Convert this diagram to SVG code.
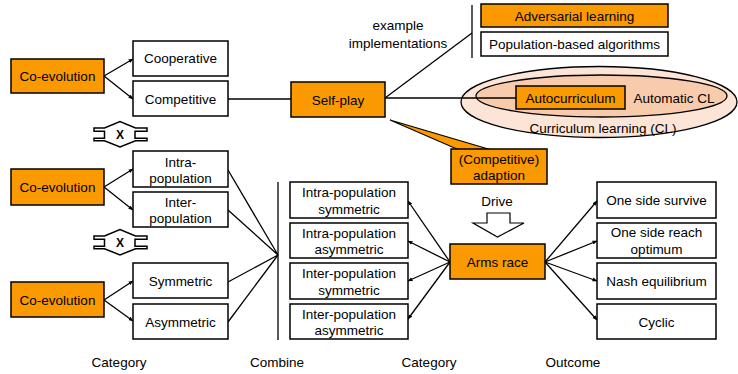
<svg xmlns="http://www.w3.org/2000/svg" width="738" height="374" viewBox="0 0 738 374">
<style>
text{font-family:"Liberation Sans",Arial,sans-serif;font-size:13.5px;fill:#000;text-anchor:middle}
.o{fill:#FA9A00;stroke:#000;stroke-width:1.5}
.w{fill:#fff;stroke:#000;stroke-width:1.5}
.l{stroke:#000;stroke-width:1.3;fill:none}
.a{stroke:#000;stroke-width:1.3;fill:none;marker-end:url(#ah)}
</style>
<defs>
<marker id="ah" viewBox="0 0 10 10" refX="9" refY="5" markerWidth="5" markerHeight="5" orient="auto" markerUnits="userSpaceOnUse"><path d="M0,1 L10,5 L0,9 Z" fill="#000"/></marker>
</defs>
<rect width="738" height="374" fill="#fff"/>

<g id="cl-ellipses">
<ellipse cx="599" cy="102" rx="138" ry="35.5" fill="#FCE4D6" stroke="#000" stroke-width="1.3"/>
<ellipse cx="601.5" cy="96" rx="125.5" ry="21" fill="#F8CBAD" stroke="#000" stroke-width="1.3"/>
<text x="603" y="133">Curriculum learning (CL)</text>
<text x="674" y="103">Automatic CL</text>
</g>

<g id="connectors">
<path class="a" d="M104,76 L133,59"/>
<path class="a" d="M104,76 L133,99"/>
<path class="a" d="M104,187 L133,169"/>
<path class="a" d="M104,187 L133,210"/>
<path class="a" d="M104,300 L133,281"/>
<path class="a" d="M104,300 L133,321"/>
<path class="l" d="M228,170 L278,255 M228,210 L278,255 M228,282 L278,255 M228,322 L278,255"/>
<path class="l" d="M278,182 V340" stroke-width="1.5"/>
<path class="l" d="M228,99 H291"/>
<path class="l" d="M385,98 H516"/>
<path class="l" d="M385,98 L472,33"/>
<path class="l" d="M472,5 V58" stroke-width="1.5"/>
<path class="a" d="M450,262 L408,201"/>
<path class="a" d="M450,262 L408,241"/>
<path class="a" d="M450,262 L408,281"/>
<path class="a" d="M450,262 L408,319"/>
<path class="a" d="M545,262 L597,201"/>
<path class="a" d="M545,262 L597,241"/>
<path class="a" d="M545,262 L597,281"/>
<path class="a" d="M545,262 L597,320"/>
</g>

<g id="x1">
<path class="w" stroke-width="1.2" d="M94,128 H104.5 L120,121.5 L135.5,128 H147 V131.3 H135 V138.3 H147 V140.7 H135.5 L120,147 L104.5,140.7 H94 V138.3 H104.5 V131.3 H94 Z"/>
<text x="120" y="139" style="font-weight:bold;font-size:12px">X</text>
</g>
<g id="x2">
<path class="w" stroke-width="1.2" d="M94,236 H104.5 L120,229.5 L135.5,236 H147 V239.3 H135 V246.3 H147 V248.7 H135.5 L120,255 L104.5,248.7 H94 V246.3 H104.5 V239.3 H94 Z"/>
<text x="120" y="247" style="font-weight:bold;font-size:12px">X</text>
</g>

<g id="coevo1"><rect class="o" x="11" y="59" width="93" height="34"/><text x="57.5" y="81">Co-evolution</text></g>
<g id="cooperative"><rect class="w" x="133" y="41" width="95" height="35"/><text x="180.5" y="63">Cooperative</text></g>
<g id="competitive"><rect class="w" x="133" y="81" width="95" height="35"/><text x="180.5" y="103.5">Competitive</text></g>

<g id="coevo2"><rect class="o" x="11" y="169" width="93" height="36"/><text x="57.5" y="192">Co-evolution</text></g>
<g id="intra"><rect class="w" x="133" y="151" width="95" height="36"/><text x="180.5" y="166.5">Intra-</text><text x="180.5" y="182.5">population</text></g>
<g id="inter"><rect class="w" x="133" y="192" width="95" height="35"/><text x="180.5" y="207">Inter-</text><text x="180.5" y="223">population</text></g>

<g id="coevo3"><rect class="o" x="11" y="282" width="93" height="35"/><text x="57.5" y="304.5">Co-evolution</text></g>
<g id="symmetric"><rect class="w" x="133" y="263" width="95" height="35"/><text x="180.5" y="285.5">Symmetric</text></g>
<g id="asymmetric"><rect class="w" x="133" y="304" width="95" height="35"/><text x="180.5" y="326.5">Asymmetric</text></g>

<g id="selfplay"><rect class="o" x="291" y="82" width="94" height="35"/><text x="338" y="104.5">Self-play</text></g>
<g id="impl-label"><text x="398" y="30">example</text><text x="398" y="47.5">implementations</text></g>
<g id="adversarial"><rect class="o" x="481" y="4" width="187" height="23"/><text x="574.5" y="20.5">Adversarial learning</text></g>
<g id="population"><rect class="w" x="481" y="32" width="187" height="24"/><text x="574.5" y="49">Population-based algorithms</text></g>
<g id="autocurriculum"><rect class="o" x="516" y="86" width="109" height="23"/><text x="570.5" y="102.5">Autocurriculum</text></g>

<g id="adaption">
<path d="M390,120 L458,149.5 L490,149.5 Z" fill="#FA9A00" stroke="#000" stroke-width="1.2" stroke-linejoin="miter"/>
<rect class="o" x="451" y="149" width="96" height="35"/>
<text x="499" y="163.5">(Competitive)</text><text x="499" y="180">adaption</text>
</g>

<g id="drive">
<text x="497" y="206">Drive</text>
<path d="M487,213 H510 V223 H524 L497.5,237 L473,223 H487 Z" fill="#fff" stroke="#000" stroke-width="1.2"/>
</g>

<g id="m1"><rect class="w" x="290" y="182" width="118" height="36"/><text x="349" y="197">Intra-population</text><text x="349" y="214">symmetric</text></g>
<g id="m2"><rect class="w" x="290" y="223" width="118" height="35"/><text x="349" y="237.5">Intra-population</text><text x="349" y="254">asymmetric</text></g>
<g id="m3"><rect class="w" x="290" y="263" width="118" height="36"/><text x="349" y="278">Inter-population</text><text x="349" y="295">symmetric</text></g>
<g id="m4"><rect class="w" x="290" y="304" width="118" height="35"/><text x="349" y="318.5">Inter-population</text><text x="349" y="335">asymmetric</text></g>

<g id="armsrace"><rect class="o" x="450" y="244" width="95" height="35"/><text x="497.5" y="266.5">Arms race</text></g>

<g id="r1"><rect class="w" x="597" y="182" width="119" height="36"/><text x="656.5" y="205">One side survive</text></g>
<g id="r2"><rect class="w" x="597" y="223" width="119" height="35"/><text x="656.5" y="237">One side reach</text><text x="656.5" y="254">optimum</text></g>
<g id="r3"><rect class="w" x="597" y="263" width="119" height="36"/><text x="656.5" y="286">Nash equilibrium</text></g>
<g id="r4"><rect class="w" x="597" y="304" width="119" height="35"/><text x="656.5" y="326.5">Cyclic</text></g>

<g id="labels">
<text x="119" y="367">Category</text>
<text x="277" y="367">Combine</text>
<text x="429" y="367">Category</text>
<text x="573" y="367">Outcome</text>
</g>
</svg>
